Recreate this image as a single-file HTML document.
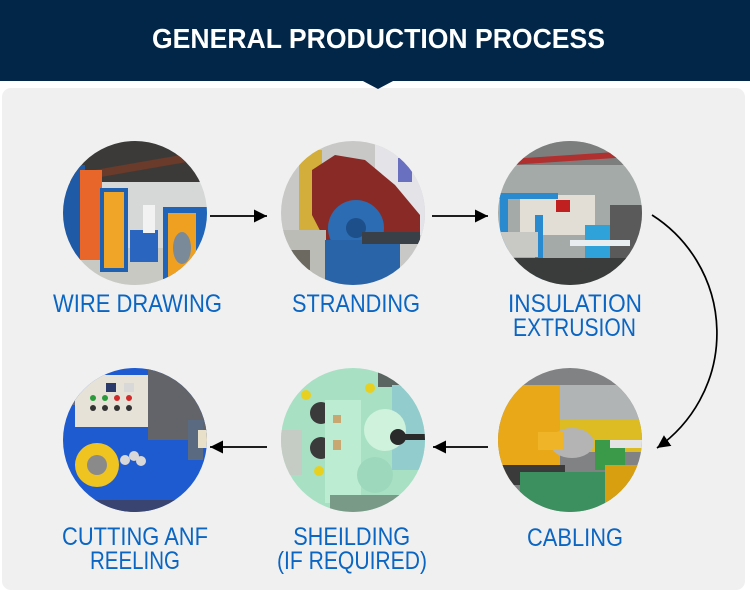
<!DOCTYPE html>
<html><head><meta charset="utf-8"><style>
html,body{margin:0;padding:0;background:#fff;width:750px;height:597px;overflow:hidden}
svg{display:block}
text{font-family:"Liberation Sans",sans-serif}
</style></head><body>
<svg width="750" height="597" viewBox="0 0 750 597" xmlns="http://www.w3.org/2000/svg">
<defs>
<marker id="ah" markerUnits="userSpaceOnUse" markerWidth="14" markerHeight="14" refX="13" refY="6.5" orient="auto">
<path d="M0,0 L13,6.5 L0,13 z" fill="#000"/>
</marker>
<clipPath id="c1"><circle cx="135" cy="213" r="72"/></clipPath>
<clipPath id="c2"><circle cx="353" cy="213" r="72"/></clipPath>
<clipPath id="c3"><circle cx="570" cy="213" r="72"/></clipPath>
<clipPath id="c4"><circle cx="135" cy="440" r="72"/></clipPath>
<clipPath id="c5"><circle cx="353" cy="440" r="72"/></clipPath>
<clipPath id="c6"><circle cx="570" cy="440" r="72"/></clipPath>
</defs>

<!-- header -->
<rect x="0" y="0" width="750" height="81" fill="#022647"/>
<rect x="2" y="88" width="743" height="502" rx="9" fill="#f0f0f0"/>
<polygon points="361,80 395,80 378,89" fill="#022647"/>
<text x="378.5" y="48" text-anchor="middle" font-size="28" font-weight="bold" fill="#fff" textLength="453" lengthAdjust="spacingAndGlyphs">GENERAL PRODUCTION PROCESS</text>

<!-- circle 1: wire drawing -->
<g clip-path="url(#c1)">
<rect x="60" y="140" width="150" height="150" fill="#d6d8d8"/>
<rect x="60" y="140" width="150" height="42" fill="#3c3a38"/>
<path d="M60,176 L210,150 L210,158 L60,184z" fill="#6a3a2a"/>
<rect x="60" y="248" width="150" height="40" fill="#c9c9c4"/>
<rect x="63" y="165" width="22" height="95" fill="#1f5aa6"/>
<rect x="80" y="170" width="22" height="90" fill="#e8662a"/>
<rect x="100" y="188" width="28" height="84" fill="#1f60b0"/>
<rect x="104" y="192" width="20" height="76" fill="#f0a528"/>
<rect x="130" y="230" width="28" height="32" fill="#2a66c0"/>
<rect x="143" y="205" width="12" height="28" fill="#f2f2f2"/>
<rect x="163" y="207" width="44" height="72" fill="#1f64b8"/>
<rect x="168" y="213" width="28" height="64" fill="#f0a020"/>
<ellipse cx="182" cy="248" rx="9" ry="16" fill="#7a8a98"/>
</g>

<!-- circle 2: stranding -->
<g clip-path="url(#c2)">
<rect x="278" y="140" width="150" height="150" fill="#c8c8c6"/>
<rect x="375" y="140" width="55" height="95" fill="#e4e4e8"/>
<rect x="398" y="158" width="14" height="24" fill="#6a70c0"/>
<rect x="299" y="150" width="23" height="85" fill="#d4ae3a"/>
<path d="M312,170 L335,155 L365,160 L395,185 L420,215 L420,240 L330,250 L312,215z" fill="#8a2a26"/>
<rect x="281" y="230" width="45" height="57" fill="#bcbcb6"/>
<rect x="290" y="250" width="20" height="20" fill="#6c6a60"/>
<circle cx="356" cy="228" r="28" fill="#2c6cb2"/>
<circle cx="356" cy="228" r="10" fill="#1d4f8a"/>
<rect x="325" y="240" width="75" height="50" fill="#2a64a8"/>
<rect x="362" y="232" width="58" height="12" fill="#3a4048"/>
</g>

<!-- circle 3: insulation extrusion -->
<g clip-path="url(#c3)">
<rect x="495" y="140" width="150" height="150" fill="#a4aaa8"/>
<rect x="495" y="140" width="150" height="25" fill="#7c7e7e"/>
<path d="M495,160 L645,150 L645,156 L495,166z" fill="#b03030"/>
<rect x="520" y="195" width="75" height="40" fill="#e2ded6"/>
<rect x="556" y="200" width="14" height="12" fill="#c02020"/>
<rect x="498" y="193" width="60" height="6" fill="#2a8ad0"/>
<rect x="500" y="195" width="8" height="80" fill="#2a8ad0"/>
<rect x="535" y="215" width="8" height="65" fill="#2a8ad0"/>
<rect x="498" y="232" width="40" height="25" fill="#c8c8c4"/>
<rect x="585" y="225" width="35" height="40" fill="#30a2da"/>
<rect x="610" y="205" width="35" height="55" fill="#5a5a5a"/>
<rect x="570" y="240" width="60" height="6" fill="#e8eef0"/>
<rect x="495" y="258" width="150" height="30" fill="#3a3c3c"/>
</g>

<!-- circle 4: cutting & reeling -->
<g clip-path="url(#c4)">
<rect x="60" y="365" width="150" height="150" fill="#1e5ad0"/>
<rect x="148" y="365" width="62" height="75" fill="#62646a"/>
<rect x="60" y="365" width="20" height="40" fill="#6a7080"/>
<rect x="75" y="375" width="73" height="52" fill="#e6e2d8"/>
<rect x="106" y="383" width="10" height="9" fill="#2a3a6a"/>
<rect x="124" y="383" width="10" height="9" fill="#d8d8d8"/>
<circle cx="93" cy="398" r="3" fill="#2a9a3a"/>
<circle cx="105" cy="398" r="3" fill="#2a9a3a"/>
<circle cx="117" cy="398" r="3" fill="#d02a2a"/>
<circle cx="129" cy="398" r="3" fill="#d02a2a"/>
<circle cx="93" cy="408" r="3" fill="#333"/>
<circle cx="105" cy="408" r="3" fill="#333"/>
<circle cx="117" cy="408" r="3" fill="#333"/>
<circle cx="129" cy="408" r="3" fill="#333"/>
<circle cx="97" cy="465" r="22" fill="#f0c420"/>
<circle cx="97" cy="465" r="10" fill="#8a8a8a"/>
<circle cx="125" cy="460" r="5" fill="#d8d8d8"/>
<circle cx="134" cy="456" r="5" fill="#d8d8d8"/>
<circle cx="141" cy="461" r="5" fill="#d8d8d8"/>
<rect x="60" y="500" width="150" height="15" fill="#3a4470"/>
<rect x="188" y="420" width="15" height="40" fill="#5a6a80"/>
<rect x="198" y="430" width="10" height="18" fill="#e8e0c8"/>
</g>

<!-- circle 5: shielding -->
<g clip-path="url(#c5)">
<rect x="278" y="365" width="150" height="150" fill="#a8e0c4"/>
<rect x="278" y="430" width="24" height="45" fill="#c4ccc4"/>
<rect x="378" y="365" width="50" height="22" fill="#5a6460"/>
<rect x="392" y="385" width="36" height="85" fill="#92cccc"/>
<circle cx="306" cy="395" r="5" fill="#e8d020"/>
<circle cx="370" cy="388" r="5" fill="#e8d020"/>
<circle cx="319" cy="471" r="5" fill="#e8d020"/>
<circle cx="321" cy="413" r="11" fill="#3a3a3a"/>
<circle cx="321" cy="448" r="11" fill="#3a3a3a"/>
<rect x="325" y="400" width="36" height="103" fill="#bcecd2"/>
<rect x="333" y="415" width="8" height="8" fill="#c8a870"/>
<rect x="333" y="440" width="8" height="10" fill="#c8a870"/>
<circle cx="375" cy="475" r="18" fill="#9ed8bc"/>
<circle cx="385" cy="430" r="21" fill="#cef2dc"/>
<circle cx="398" cy="437" r="8" fill="#2a2a2a"/>
<rect x="400" y="434" width="28" height="6" fill="#2a2a2a"/>
<rect x="330" y="495" width="70" height="20" fill="#7a9a88"/>
</g>

<!-- circle 6: cabling -->
<g clip-path="url(#c6)">
<rect x="495" y="365" width="150" height="150" fill="#808284"/>
<rect x="560" y="385" width="85" height="35" fill="#b0b4b4"/>
<rect x="495" y="385" width="65" height="95" fill="#e8a818"/>
<rect x="560" y="420" width="85" height="32" fill="#dcbc22"/>
<ellipse cx="572" cy="443" rx="22" ry="15" fill="#b4b4b4"/>
<rect x="538" y="432" width="25" height="18" fill="#f0b428"/>
<rect x="495" y="465" width="70" height="20" fill="#3a3a3a"/>
<rect x="520" y="472" width="125" height="45" fill="#3c9060"/>
<rect x="595" y="440" width="30" height="30" fill="#3a9a4a"/>
<rect x="605" y="465" width="40" height="40" fill="#d8a010"/>
<rect x="610" y="440" width="35" height="8" fill="#e4e4e4"/>
</g>

<!-- arrows -->
<g stroke="#000" stroke-width="1.7" fill="none">
<line x1="210" y1="216" x2="267" y2="216" marker-end="url(#ah)"/>
<line x1="432" y1="216" x2="488" y2="216" marker-end="url(#ah)"/>
<line x1="267" y1="447" x2="210" y2="447" marker-end="url(#ah)"/>
<line x1="488" y1="447" x2="433" y2="447" marker-end="url(#ah)"/>
<path d="M652,215 A140,140 0 0 1 657,448" marker-end="url(#ah)"/>
</g>

<!-- labels -->
<g fill="#0b66c3" font-size="25" text-anchor="middle">
<text x="137.5" y="312" textLength="169" lengthAdjust="spacingAndGlyphs">WIRE DRAWING</text>
<text x="356" y="312" textLength="128" lengthAdjust="spacingAndGlyphs">STRANDING</text>
<text x="575" y="312" textLength="134" lengthAdjust="spacingAndGlyphs">INSULATION</text>
<text x="574.5" y="336" textLength="123" lengthAdjust="spacingAndGlyphs">EXTRUSION</text>
<text x="135" y="545" textLength="146" lengthAdjust="spacingAndGlyphs">CUTTING ANF</text>
<text x="135" y="569" textLength="90" lengthAdjust="spacingAndGlyphs">REELING</text>
<text x="351.7" y="545" textLength="117" lengthAdjust="spacingAndGlyphs">SHEILDING</text>
<text x="352" y="569" textLength="150" lengthAdjust="spacingAndGlyphs">(IF REQUIRED)</text>
<text x="575" y="546" textLength="96" lengthAdjust="spacingAndGlyphs">CABLING</text>
</g>
</svg>
</body></html>
